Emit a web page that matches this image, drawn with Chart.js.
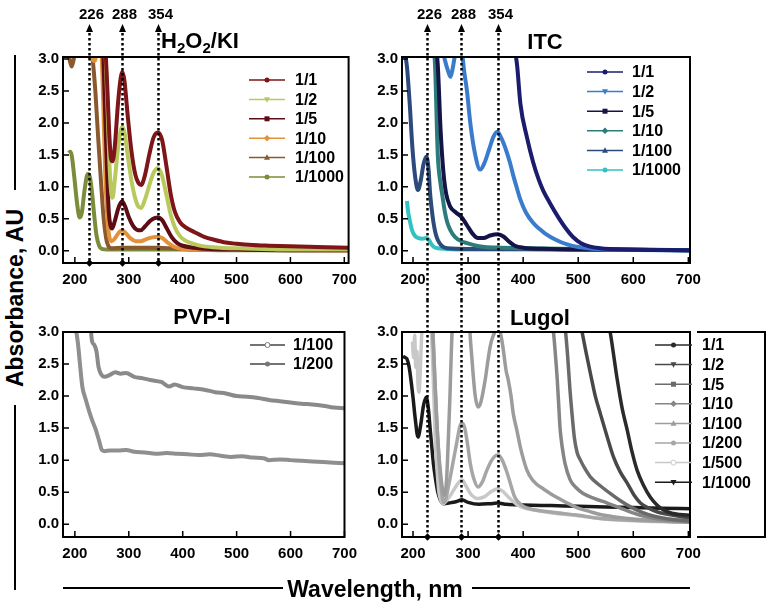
<!DOCTYPE html>
<html>
<head>
<meta charset="utf-8">
<script src="https://cdn.jsdelivr.net/npm/chart.js@4.4.0/dist/chart.umd.min.js"></script>
<style>
  body { margin: 0; background: #fff; }
  #wrap { position: relative; width: 773px; height: 608px; overflow: hidden; font-family: 'Liberation Sans', Arial, sans-serif; font-weight: bold; color: #000; }
  canvas { position: absolute; }
  .ttl { position: absolute; font-size: 22px; transform: translate(-50%, -50%); white-space: nowrap; }
  .ttl sub { font-size: 15px; vertical-align: -5px; }
  .axt { position: absolute; font-size: 23px; white-space: nowrap; }
  .bar { position: absolute; background: #000; }
</style>
</head>
<body>
<div id="wrap">
  <canvas id="ki" width="335" height="300" style="left:30px;top:0px"></canvas>
  <canvas id="itc" width="408" height="300" style="left:365px;top:0px"></canvas>
  <canvas id="pvp" width="335" height="308" style="left:30px;top:300px"></canvas>
  <canvas id="lugol" width="408" height="308" style="left:365px;top:300px"></canvas>

  <div class="ttl" style="left:200px;top:42px">H<sub>2</sub>O<sub>2</sub>/KI</div>
  <div class="ttl" style="left:545px;top:42px">ITC</div>
  <div class="ttl" style="left:202px;top:317px">PVP-I</div>
  <div class="ttl" style="left:540px;top:318px">Lugol</div>

  <div class="bar" style="left:14px;top:55px;width:2px;height:135px"></div>
  <div class="axt" style="left:15px;top:298px;transform:translate(-50%,-50%) rotate(-90deg)">Absorbance, AU</div>
  <div class="bar" style="left:14px;top:405px;width:2px;height:185px"></div>

  <div class="bar" style="left:63px;top:587px;width:220px;height:2px"></div>
  <div class="axt" style="left:375px;top:589px;transform:translate(-50%,-50%)">Wavelength, nm</div>
  <div class="bar" style="left:472px;top:587px;width:218px;height:2px"></div>
</div>

<script>
// ---- axis ticks and peak markers ----
const xTicks = [200, 300, 400, 500, 600, 700];
const yTicks = [0, 0.5, 1, 1.5, 2, 2.5, 3];
const peakNm = [226, 288, 354];

// ---- H2O2/KI : [wavelength nm, absorbance] ----
const kiLabels = ['1/1', '1/2', '1/5', '1/10', '1/100', '1/1000'];
const ki1 = [[256,3.3],[260,2.6],[264,1.8],[267,1.45],[270,1.4],[274,1.62],[280,2.3],[285,2.7],[288,2.8],[292,2.66],[298,2.12],[305,1.56],[312,1.2],[318,1.06],[323,1.03],[330,1.18],[338,1.5],[346,1.77],[354,1.85],[362,1.73],[370,1.32],[378,0.88],[386,0.6],[395,0.45],[405,0.37],[420,0.3],[440,0.22],[460,0.17],[480,0.13],[500,0.11],[530,0.09],[560,0.08],[600,0.07],[650,0.06],[708,0.05]];
const ki2 = [[256,3.3],[260,2.4],[264,1.4],[267,0.95],[270,0.83],[274,1.1],[280,1.6],[285,1.88],[288,1.93],[292,1.86],[298,1.5],[305,1.1],[312,0.82],[318,0.69],[323,0.67],[330,0.8],[338,1.02],[346,1.22],[354,1.29],[362,1.17],[370,0.87],[378,0.56],[386,0.36],[395,0.23],[405,0.16],[420,0.11],[440,0.07],[470,0.05],[500,0.04],[550,0.03],[600,0.02],[708,0.02]];
const ki5 = [[252,3.3],[256,2.2],[260,1.2],[263,0.6],[266,0.4],[269,0.35],[274,0.46],[280,0.65],[285,0.75],[288,0.77],[293,0.7],[300,0.53],[308,0.39],[315,0.33],[322,0.32],[330,0.38],[340,0.47],[348,0.51],[354,0.52],[362,0.48],[370,0.36],[380,0.21],[390,0.12],[400,0.08],[420,0.05],[450,0.03],[500,0.02],[600,0.01],[708,0.01]];
const ki10 = [[226,3.2],[232,3.0],[237,2.97],[242,3.2],[248,3.3],[252,2.5],[256,1.3],[260,0.55],[264,0.22],[268,0.15],[274,0.19],[282,0.29],[288,0.32],[295,0.27],[304,0.19],[313,0.15],[322,0.15],[332,0.18],[344,0.21],[354,0.22],[362,0.2],[372,0.13],[385,0.06],[400,0.03],[450,0.02],[708,0.01]];
const ki100 = [[186,3.2],[190,3.0],[194,2.88],[198,3.0],[203,3.2],[228,3.3],[233,3.0],[238,2.5],[243,1.8],[248,1.15],[253,0.55],[258,0.2],[262,0.08],[268,0.04],[288,0.05],[354,0.05],[400,0.03],[500,0.02],[600,0.01],[708,0.01]];
const ki1000 = [[189,1.53],[191,1.55],[194,1.5],[199,1.15],[204,0.75],[209,0.52],[213,0.6],[218,0.95],[224,1.2],[228,1.15],[232,0.9],[236,0.55],[240,0.25],[245,0.08],[250,0.03],[260,0.02],[300,0.02],[400,0.02],[500,0.01],[708,0.01]];

// ---- ITC ----
const itcLabels = ['1/1', '1/2', '1/5', '1/10', '1/100', '1/1000'];
const itc1 = [[382,3.3],[389,2.9],[395,2.3],[407,1.77],[418,1.39],[428,1.12],[436,0.95],[449,0.74],[462,0.55],[475,0.38],[490,0.22],[505,0.12],[520,0.07],[540,0.04],[580,0.02],[703,0.01]];
const itc2 = [[250,3.3],[258,2.98],[264,2.8],[268,2.72],[272,2.85],[277,3.1],[282,3.3],[289,3.1],[293,2.8],[298,2.5],[304,2.0],[313,1.5],[322,1.27],[330,1.38],[338,1.58],[346,1.78],[353,1.86],[360,1.77],[368,1.6],[376,1.38],[382,1.18],[388,1.0],[395,0.8],[405,0.6],[418,0.44],[430,0.34],[440,0.27],[460,0.17],[480,0.1],[500,0.06],[550,0.02],[703,0.01]];
const itc5 = [[240,3.3],[245,2.9],[250,1.9],[255,1.25],[260,0.9],[267,0.7],[278,0.6],[288,0.53],[298,0.4],[308,0.27],[318,0.2],[328,0.2],[340,0.24],[354,0.26],[365,0.22],[375,0.14],[385,0.08],[400,0.05],[450,0.03],[550,0.02],[703,0.01]];
const itc10 = [[236,3.3],[240,2.9],[245,1.5],[250,1.05],[253,0.88],[258,0.6],[262,0.45],[268,0.32],[276,0.22],[288,0.15],[298,0.12],[315,0.08],[330,0.06],[360,0.05],[400,0.04],[500,0.03],[600,0.02],[703,0.01]];
const itc100 = [[185,3.1],[189,2.88],[194,2.3],[199,1.6],[204,1.15],[209,0.95],[214,1.1],[219,1.35],[224,1.47],[228,1.3],[231,0.9],[234,0.65],[237,0.45],[241,0.27],[245,0.17],[252,0.08],[262,0.04],[300,0.03],[400,0.03],[500,0.02],[703,0.01]];
const itc1000 = [[189,0.78],[191,0.62],[194,0.48],[198,0.33],[203,0.24],[210,0.2],[217,0.19],[224,0.2],[228,0.18],[233,0.11],[238,0.06],[245,0.04],[300,0.02],[400,0.02],[500,0.02],[703,0.01]];

// ---- PVP-I ----
const pvpLabels = ['1/100', '1/200'];
const pvp100 = [[228,3.2],[232,2.85],[236,2.8],[240,2.7],[244,2.45],[248,2.35],[255,2.3],[265,2.33],[275,2.37],[285,2.35],[295,2.36],[310,2.3],[325,2.28],[340,2.25],[360,2.22],[375,2.15],[385,2.18],[400,2.14],[420,2.12],[440,2.1],[460,2.06],[480,2.04],[500,2.0],[520,1.99],[540,1.97],[560,1.94],[580,1.92],[600,1.9],[620,1.88],[640,1.87],[660,1.85],[680,1.82],[700,1.81]];
const pvp200 = [[202,3.05],[206,2.8],[210,2.45],[214,2.14],[220,1.95],[227,1.75],[233,1.6],[239,1.47],[245,1.3],[250,1.16],[255,1.14],[265,1.15],[280,1.15],[295,1.16],[310,1.13],[330,1.12],[350,1.1],[370,1.11],[390,1.1],[410,1.09],[430,1.08],[450,1.09],[470,1.07],[490,1.05],[510,1.06],[530,1.04],[550,1.03],[560,1.0],[580,1.01],[600,1.0],[620,0.99],[640,0.98],[660,0.97],[680,0.96],[700,0.95]];

// ---- Lugol ----
const lugolLabels = ['1/1', '1/2', '1/5', '1/10', '1/100', '1/200', '1/500', '1/1000'];
const lug1 = [[550,3.3],[558,3.0],[565,2.6],[571,2.25],[580,1.8],[589,1.47],[598,1.12],[607,0.84],[619,0.6],[631,0.42],[643,0.3],[655,0.22],[670,0.17],[685,0.15],[703,0.14]];
const lug2 = [[500,3.3],[507,3.0],[515,2.65],[522,2.36],[531,2.0],[540,1.73],[552,1.38],[564,1.05],[576,0.82],[589,0.64],[601,0.46],[613,0.33],[628,0.25],[644,0.19],[665,0.15],[685,0.12],[703,0.1]];
const lug5 = [[470,3.3],[477,3.0],[481,2.6],[485,2.1],[489,1.7],[493,1.35],[498,1.12],[504,1.0],[512,0.87],[522,0.74],[540,0.6],[558,0.48],[576,0.37],[595,0.27],[615,0.19],[640,0.12],[665,0.08],[703,0.05]];
const lug10 = [[448,3.3],[455,3.0],[459,2.6],[462,2.25],[465,1.8],[467,1.5],[471,1.2],[476,0.95],[485,0.7],[495,0.58],[509,0.48],[530,0.4],[553,0.33],[580,0.24],[613,0.14],[640,0.09],[670,0.06],[703,0.04]];
const lug100 = [[234,3.3],[238,2.6],[242,1.8],[246,1.2],[250,0.8],[254,0.52],[257,0.45],[261,0.7],[264,1.3],[267,1.98],[270,2.8],[273,3.3],[300,3.3],[305,2.8],[309,2.36],[313,2.0],[318,1.83],[323,1.9],[331,2.25],[336,2.55],[340,2.77],[346,2.95],[352,3.02],[358,3.0],[364,2.72],[369,2.4],[373,2.25],[378,2.0],[382,1.73],[389,1.45],[395,1.2],[401,1.0],[407,0.84],[416,0.7],[425,0.62],[437,0.55],[449,0.48],[465,0.4],[480,0.33],[500,0.25],[520,0.2],[540,0.15],[570,0.11],[600,0.08],[650,0.05],[703,0.03]];
const lug200 = [[228,3.3],[236,3.0],[240,2.2],[244,1.47],[248,0.9],[252,0.5],[255,0.34],[259,0.38],[265,0.62],[273,0.98],[280,1.3],[285,1.52],[289,1.58],[294,1.5],[299,1.25],[304,0.95],[310,0.72],[318,0.58],[326,0.66],[334,0.84],[343,1.0],[350,1.07],[355,1.08],[362,1.0],[371,0.8],[378,0.6],[385,0.42],[393,0.33],[400,0.28],[418,0.23],[450,0.19],[500,0.14],[540,0.09],[580,0.07],[640,0.05],[703,0.03]];
const lug500 = [[199,2.85],[201,2.6],[203,2.95],[205,2.45],[207,2.7],[209,2.2],[211,2.06],[213,2.36],[215,2.8],[218,3.3],[230,3.3],[234,2.9],[237,2.2],[239,1.7],[241,1.2],[244,0.8],[247,0.5],[251,0.36],[255,0.32],[262,0.38],[273,0.52],[282,0.64],[289,0.69],[296,0.6],[305,0.47],[318,0.4],[330,0.43],[342,0.51],[353,0.55],[362,0.52],[376,0.4],[390,0.3],[400,0.26],[420,0.22],[450,0.18],[500,0.13],[540,0.09],[580,0.06],[640,0.04],[703,0.03]];
const lug1000 = [[182,2.62],[186,2.6],[189,2.58],[193,2.45],[197,2.2],[200,1.98],[204,1.65],[209,1.36],[214,1.55],[219,1.85],[224,1.98],[228,1.8],[231,1.5],[234,1.22],[237,0.95],[241,0.7],[245,0.5],[250,0.37],[256,0.32],[265,0.33],[278,0.35],[289,0.38],[300,0.34],[320,0.31],[340,0.32],[353,0.33],[370,0.31],[400,0.3],[450,0.29],[500,0.28],[550,0.27],[600,0.26],[650,0.25],[703,0.24]];

// ---- styles ----
const kiColors = ['#7e1518', '#b9c95c', '#5e0d14', '#e3923c', '#8a5a2e', '#7b8c3a'];
const itcColors = ['#1c1c6e', '#3b7bcb', '#141447', '#2b7c7a', '#2d4a7c', '#33c2c2'];
const pvpColors = ['#8a8a8a', '#8f8f8f'];
const lugolColors = ['#2a2a2a', '#484848', '#6a6a6a', '#858585', '#9c9c9c', '#a6a6a6', '#c8c8c8', '#1a1a1a'];
const sixMarkers = ['circle', 'triDown', 'square', 'diamond', 'tri', 'circle'];
const lugolMarkers = ['circle', 'triDown', 'square', 'diamond', 'tri', 'circle', 'ring', 'triDown'];

function drawMarker(ctx, kind, x, y, r, color) {
    ctx.beginPath();
    if (kind === 'square') {
        ctx.rect(x - r, y - r, 2 * r, 2 * r);
    } else if (kind === 'diamond') {
        ctx.moveTo(x, y - r * 1.3); ctx.lineTo(x + r * 1.3, y); ctx.lineTo(x, y + r * 1.3); ctx.lineTo(x - r * 1.3, y);
    } else if (kind === 'tri') {
        ctx.moveTo(x, y - r * 1.3); ctx.lineTo(x + r * 1.2, y + r * 0.9); ctx.lineTo(x - r * 1.2, y + r * 0.9);
    } else if (kind === 'triDown') {
        ctx.moveTo(x, y + r * 1.3); ctx.lineTo(x + r * 1.2, y - r * 0.9); ctx.lineTo(x - r * 1.2, y - r * 0.9);
    } else {
        ctx.arc(x, y, r, 0, Math.PI * 2);
    }
    ctx.closePath();
    if (kind === 'ring') {
        ctx.fillStyle = '#fff'; ctx.fill();
        ctx.lineWidth = 1; ctx.strokeStyle = color; ctx.stroke();
    } else {
        ctx.fillStyle = color; ctx.fill();
    }
}

// frame, inward ticks, legend and the dotted peak lines
const deco = {
    id: 'deco',
    afterDraw(chart, args, o) {
        const ctx = chart.ctx, a = chart.chartArea;
        const sx = chart.scales.x, sy = chart.scales.y;
        ctx.save();
        ctx.strokeStyle = '#000';
        ctx.lineWidth = 2;
        ctx.strokeRect(a.left, a.top, a.right - a.left, a.bottom - a.top);
        ctx.lineWidth = 1.5;
        ctx.beginPath();
        xTicks.forEach(v => { const p = sx.getPixelForValue(v); ctx.moveTo(p, a.bottom); ctx.lineTo(p, a.bottom - 6); });
        yTicks.forEach(v => { const p = sy.getPixelForValue(v); ctx.moveTo(a.left, p); ctx.lineTo(a.left + 6, p); });
        ctx.stroke();

        if (o.extraFrame) {
            ctx.lineWidth = 2;
            ctx.beginPath();
            ctx.moveTo(a.right + 7, a.top); ctx.lineTo(a.right + 75, a.top);
            ctx.lineTo(a.right + 75, a.bottom); ctx.lineTo(a.right + 7, a.bottom);
            ctx.stroke();
        }

        // legend
        const lg = o.legend;
        ctx.font = 'bold 16px "Liberation Sans", Arial, sans-serif';
        ctx.textBaseline = 'middle';
        ctx.textAlign = 'left';
        chart.data.datasets.forEach((ds, i) => {
            const y = lg.y + i * lg.step;
            ctx.strokeStyle = lg.lineColor || ds.borderColor;
            ctx.lineWidth = 1.5;
            ctx.beginPath(); ctx.moveTo(lg.x1, y); ctx.lineTo(lg.x2, y); ctx.stroke();
            drawMarker(ctx, ds.marker, (lg.x1 + lg.x2) / 2, y, 2.5, lg.markerColor || ds.borderColor);
            ctx.fillStyle = '#000';
            ctx.fillText(ds.label, lg.tx, y + 1);
        });

        // dotted peak lines
        const pk = o.peaks;
        if (pk) {
            const bottom = pk.toArea ? a.bottom : chart.height;
            peakNm.forEach(nm => {
                const px = Math.round(sx.getPixelForValue(nm)) + 0.5;
                ctx.strokeStyle = '#000';
                ctx.lineWidth = 2.5;
                ctx.setLineDash([2.5, 2.5]);
                ctx.beginPath(); ctx.moveTo(px, pk.top); ctx.lineTo(px, bottom); ctx.stroke();
                ctx.setLineDash([]);
                if (pk.arrow) {
                    ctx.fillStyle = '#000';
                    ctx.beginPath();
                    ctx.moveTo(px, pk.top - 4); ctx.lineTo(px + 3.5, pk.top + 4); ctx.lineTo(px - 3.5, pk.top + 4);
                    ctx.closePath(); ctx.fill();
                    ctx.font = 'bold 15px "Liberation Sans", Arial, sans-serif';
                    ctx.textAlign = 'center';
                    ctx.fillText(String(nm), px + 2, 15);
                }
                if (pk.toArea) {
                    drawMarker(ctx, 'diamond', px, a.bottom, 2.8, '#000');
                }
            });
        }
        ctx.restore();
    }
};

function datasets(series, labels, colors, markers, width) {
    return series.map((s, i) => ({
        label: labels[i],
        data: s.map(p => ({ x: p[0], y: p[1] })),
        borderColor: colors[i],
        backgroundColor: colors[i],
        borderWidth: width,
        pointRadius: 0,
        pointHoverRadius: 0,
        cubicInterpolationMode: 'monotone',
        clip: 1,
        marker: markers[i]
    }));
}

const tickFont = { family: '"Liberation Sans", Arial, sans-serif', size: 15, weight: 'bold' };

function scales(xmin, xmax, ymin, ymax, yWidth) {
    return {
        x: {
            type: 'linear', min: xmin, max: xmax,
            afterBuildTicks: s => { s.ticks = xTicks.map(v => ({ value: v })); },
            afterFit: s => { s.height = 30; },
            grid: { display: false, drawTicks: false },
            border: { display: false },
            ticks: { padding: 8, color: '#000', font: tickFont, maxRotation: 0, autoSkip: false, callback: v => String(v) }
        },
        y: {
            type: 'linear', min: ymin, max: ymax,
            afterBuildTicks: s => { s.ticks = yTicks.map(v => ({ value: v })); },
            afterFit: s => { s.width = yWidth; },
            grid: { display: false, drawTicks: false },
            border: { display: false },
            ticks: { padding: 4, color: '#000', font: tickFont, autoSkip: false, callback: v => v.toFixed(1) }
        }
    };
}

function makeChart(id, ds, sc, padding, decoOpts) {
    return new Chart(document.getElementById(id), {
        type: 'line',
        data: { datasets: ds },
        options: {
            responsive: false,
            animation: false,
            events: [],
            layout: { padding: padding },
            scales: sc,
            plugins: { legend: { display: false }, tooltip: { enabled: false }, deco: decoOpts }
        },
        plugins: [deco]
    });
}

makeChart('ki',
    datasets([ki1, ki2, ki5, ki10, ki100, ki1000], kiLabels, kiColors, sixMarkers, 4),
    scales(178, 708, -0.19, 3.03, 33),
    { left: 0, right: 13, top: 57, bottom: 7 },
    { legend: { x1: 219, x2: 255, tx: 265, y: 80, step: 19.4 }, peaks: { top: 28, arrow: true, toArea: true } });

makeChart('itc',
    datasets([itc1, itc2, itc5, itc10, itc100, itc1000], itcLabels, itcColors, sixMarkers, 4),
    scales(180, 703, -0.19, 3.03, 37),
    { left: 0, right: 83, top: 57, bottom: 7 },
    { legend: { x1: 222, x2: 258, tx: 267, y: 72, step: 19.6 }, peaks: { top: 28, arrow: true, toArea: false } });

makeChart('pvp',
    datasets([pvp100, pvp200], pvpLabels, pvpColors, ['ring', 'circle'], 4),
    scales(178, 700, -0.2, 3.0, 33),
    { left: 0, right: 13, top: 32, bottom: 41 },
    { legend: { x1: 220, x2: 255, tx: 263, y: 45, step: 19, lineColor: '#444', markerColor: '#777' } });

makeChart('lugol',
    datasets([lug1, lug2, lug5, lug10, lug100, lug200, lug500, lug1000], lugolLabels, lugolColors, lugolMarkers, 3.5),
    scales(180, 703, -0.2, 3.0, 37),
    { left: 0, right: 83, top: 32, bottom: 41 },
    { legend: { x1: 290, x2: 327, tx: 337, y: 45, step: 19.6 }, peaks: { top: 0, arrow: false, toArea: true }, extraFrame: true });
</script>
</body>
</html>
